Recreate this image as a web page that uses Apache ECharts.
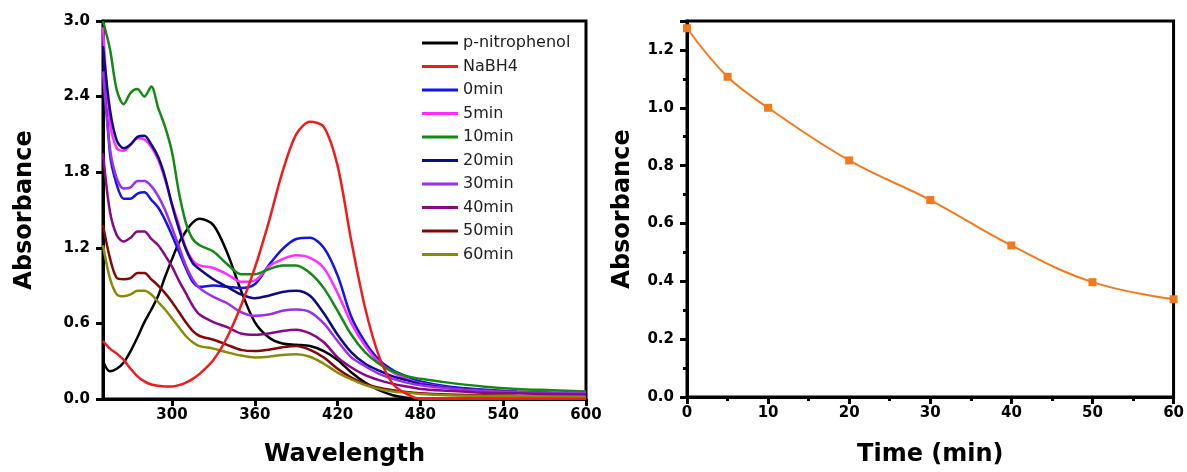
<!DOCTYPE html>
<html>
<head>
<meta charset="utf-8">
<script src="https://cdn.jsdelivr.net/npm/echarts@6/dist/echarts.min.js"></script>
<style>
html,body{margin:0;padding:0;background:#fff;}
#chart{width:1187px;height:472px;}
</style>
</head>
<body>
<div id="chart"></div>
<script>
// ---------- data ----------
const wavelengths = [250,255,260,265,270,275,280,285,290,295,300,305,310,315,320,330,340,350,360,370,380,390,400,410,420,430,440,450,460,470,480,500,525,550,575,600];
const seriesNames = ['p-nitrophenol','NaBH4','0min','5min','10min','20min','30min','40min','50min','60min'];
const seriesColors = ['#000000','#ee1c1c','#1414e6','#ff2eff','#138a13','#0c0c80','#9a2ff0','#860a86','#820808','#8a8a0a'];
const pNitrophenol = [0.30,0.22,0.24,0.29,0.38,0.49,0.61,0.71,0.82,0.97,1.11,1.24,1.33,1.40,1.43,1.38,1.16,0.86,0.61,0.49,0.44,0.43,0.42,0.38,0.31,0.21,0.13,0.07,0.03,0.01,0,0,0,0,0,0];
const nabh4 = [0.46,0.40,0.36,0.31,0.24,0.18,0.14,0.115,0.105,0.10,0.10,0.11,0.13,0.16,0.20,0.31,0.49,0.74,1.04,1.40,1.80,2.10,2.20,2.16,1.85,1.25,0.72,0.34,0.12,0.04,0,0,0,0,0,0];
const min0 = [2.90,1.95,1.70,1.59,1.59,1.63,1.64,1.58,1.52,1.42,1.30,1.17,1.04,0.93,0.89,0.90,0.89,0.88,0.91,1.06,1.19,1.27,1.28,1.20,0.98,0.65,0.45,0.31,0.23,0.18,0.14,0.10,0.075,0.06,0.05,0.045];
const min5 = [2.95,2.20,1.99,1.97,2.02,2.07,2.06,2.00,1.90,1.74,1.55,1.38,1.20,1.10,1.06,1.04,0.99,0.93,0.94,1.05,1.11,1.14,1.12,1.04,0.84,0.60,0.42,0.29,0.21,0.16,0.125,0.09,0.07,0.055,0.045,0.04];
const min10 = [3.00,2.78,2.45,2.34,2.43,2.46,2.40,2.48,2.31,2.16,1.96,1.64,1.40,1.27,1.22,1.17,1.07,0.99,0.99,1.03,1.06,1.06,1.00,0.88,0.70,0.51,0.37,0.28,0.22,0.18,0.16,0.13,0.10,0.08,0.07,0.06];
const min20 = [2.80,2.30,2.05,1.99,2.02,2.08,2.09,2.02,1.92,1.76,1.54,1.35,1.19,1.08,1.03,0.95,0.89,0.83,0.80,0.82,0.85,0.86,0.82,0.68,0.51,0.37,0.28,0.225,0.18,0.15,0.12,0.09,0.07,0.055,0.045,0.04];
const min30 = [2.60,1.99,1.75,1.67,1.68,1.73,1.73,1.69,1.61,1.50,1.36,1.21,1.06,0.95,0.88,0.81,0.76,0.69,0.66,0.67,0.70,0.71,0.69,0.60,0.46,0.33,0.26,0.20,0.16,0.13,0.11,0.085,0.065,0.055,0.05,0.045];
const min40 = [1.95,1.49,1.30,1.25,1.28,1.33,1.33,1.27,1.22,1.14,1.05,0.94,0.84,0.74,0.67,0.61,0.57,0.52,0.51,0.52,0.54,0.55,0.52,0.45,0.33,0.25,0.19,0.15,0.12,0.10,0.08,0.065,0.05,0.045,0.04,0.035];
const min50 = [1.38,1.12,0.96,0.95,0.96,1.00,1.00,0.95,0.90,0.84,0.77,0.69,0.61,0.54,0.50,0.47,0.43,0.39,0.38,0.39,0.41,0.42,0.39,0.33,0.24,0.17,0.12,0.09,0.07,0.055,0.045,0.035,0.03,0.025,0.022,0.02];
const min60 = [1.22,0.96,0.83,0.815,0.83,0.86,0.86,0.83,0.77,0.71,0.64,0.57,0.50,0.45,0.42,0.40,0.37,0.345,0.33,0.335,0.35,0.355,0.335,0.28,0.21,0.155,0.11,0.08,0.06,0.05,0.04,0.03,0.025,0.022,0.02,0.018];
const spectra = [pNitrophenol,nabh4,min0,min5,min10,min20,min30,min40,min50,min60];
const wavelengthTicks = [300,360,420,480,540,600];

const times = [0,5,10,20,30,40,50,60];
const absorbanceTime = [1.275,1.107,1.0,0.818,0.681,0.524,0.397,0.338];

// ---------- chart ----------
const FONT = 'DejaVu Sans';
const chart = echarts.init(document.getElementById('chart'), null, {renderer:'canvas'});

const axisLineStyle = {lineStyle:{color:'#000', width:3}};
const labelStyle = {color:'#000', fontFamily:FONT, fontWeight:'bold', fontSize:15};
const nameStyle = {color:'#000', fontFamily:FONT, fontWeight:'bold', fontSize:24};

const spectralSeries = seriesNames.map((name,i)=>({
  name: name,
  type: 'line',
  xAxisIndex: 0, yAxisIndex: 0,
  data: wavelengths.map((w,j)=>[w, spectra[i][j]]),
  symbol: 'none',
  smooth: 0.3,
  lineStyle: {color: seriesColors[i], width: 2.5},
  itemStyle: {color: seriesColors[i]},
  z: 2 + (i===1 ? 1 : 0)
}));

const option = {
  animation: false,
  backgroundColor: '#fff',
  legend: {
    orient: 'vertical',
    left: 422, top: 35,
    padding: 0,
    icon: 'rect',
    itemWidth: 36, itemHeight: 3, itemGap: 7.5,
    data: seriesNames,
    textStyle: {fontFamily: FONT, fontSize: 16, color: '#222'}
  },
  grid: [
    {left:103, top:21, width:483, height:381, show:true, borderColor:'#000', borderWidth:3, containLabel:false},
    {left:687, top:21, width:488, height:378, show:true, borderColor:'#000', borderWidth:3, containLabel:false}
  ],
  xAxis: [
    {
      gridIndex:0, type:'value', min:250, max:600,
      axisLine: axisLineStyle,
      axisTick: {show:true, inside:false, length:7, lineStyle:{width:3, color:'#000'}, customValues: wavelengthTicks},
      axisLabel: Object.assign({margin:9, customValues: wavelengthTicks}, labelStyle),
      splitLine: {show:false},
      name: 'Wavelength', nameLocation:'middle', nameGap:44, nameTextStyle: nameStyle
    },
    {
      gridIndex:1, type:'value', min:0, max:60, interval:10,
      axisLine: axisLineStyle,
      axisTick: {show:true, inside:false, length:7, lineStyle:{width:3, color:'#000'}},
      minorTick: {show:true, splitNumber:2, length:4, lineStyle:{width:3, color:'#000'}},
      axisLabel: Object.assign({margin:9}, labelStyle),
      splitLine: {show:false},
      name: 'Time (min)', nameLocation:'middle', nameGap:46, nameTextStyle: nameStyle
    }
  ],
  yAxis: [
    {
      gridIndex:0, type:'value', min:0, max:3, interval:0.6,
      axisLine: axisLineStyle,
      axisTick: {show:true, inside:false, length:7, lineStyle:{width:3, color:'#000'}},
      axisLabel: Object.assign({margin:13, formatter:v=>v.toFixed(1)}, labelStyle),
      splitLine: {show:false},
      name: 'Absorbance', nameLocation:'middle', nameGap:66, nameTextStyle: nameStyle
    },
    {
      gridIndex:1, type:'value', min:0, max:1.3, interval:0.2,
      axisLine: axisLineStyle,
      axisTick: {show:true, inside:false, length:7, lineStyle:{width:3, color:'#000'}},
      minorTick: {show:true, splitNumber:2, length:4, lineStyle:{width:3, color:'#000'}},
      axisLabel: Object.assign({margin:13, showMaxLabel:false, formatter:v=>v.toFixed(1)}, labelStyle),
      splitLine: {show:false},
      name: 'Absorbance', nameLocation:'middle', nameGap:52, nameTextStyle: nameStyle
    }
  ],
  series: spectralSeries.concat([{
    name: 'Absorbance vs time',
    type: 'line',
    xAxisIndex: 1, yAxisIndex: 1,
    data: times.map((t,i)=>[t, absorbanceTime[i]]),
    smooth: 0.4,
    symbol: 'rect', symbolSize: 8,
    lineStyle: {color:'#f27a1e', width:2},
    itemStyle: {color:'#f27a1e'},
    clip: false
  }])
};
chart.setOption(option);
</script>
</body>
</html>
